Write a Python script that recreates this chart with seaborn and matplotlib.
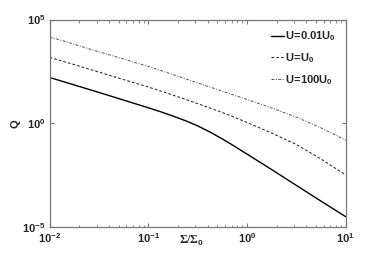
import matplotlib
matplotlib.use("Agg")
import matplotlib.pyplot as plt
import matplotlib.ticker as mticker
import numpy as np
import pandas as pd
import seaborn as sns

# sigma / sigma_0 sample points
sigma = [0.01, 0.0178, 0.0316, 0.0562, 0.1, 0.133, 0.178, 0.237, 0.316, 0.422, 0.562, 0.75,
         1.0, 1.78, 3.16, 5.62, 10.0]

# log10(Q)
logq_low = [2.21, 1.85, 1.49, 1.12, 0.75, 0.56, 0.35, 0.13, -0.12, -0.42, -0.75, -1.11,
            -1.48, -2.23, -2.99, -3.75, -4.50]
logq_mid = [3.18, 2.83, 2.47, 2.11, 1.75, 1.56, 1.36, 1.16, 0.95, 0.74, 0.52, 0.29,
            0.04, -0.47, -1.02, -1.72, -2.49]
logq_high = [4.17, 3.81, 3.45, 3.10, 2.74, 2.55, 2.35, 2.15, 1.95, 1.75, 1.55, 1.35,
             1.15, 0.74, 0.30, -0.22, -0.81]

labels = [r"$U\!=\!0.01U_0$", r"$U\!=\!U_0$", r"$U\!=\!100U_0$"]

sns.set_style("ticks")
plt.rcParams["font.family"] = ["Liberation Sans", "DejaVu Sans"]
plt.rcParams["font.weight"] = "bold"
plt.rcParams["mathtext.fontset"] = "custom"
plt.rcParams["mathtext.default"] = "bf"
plt.rcParams["mathtext.rm"] = "Liberation Serif"
plt.rcParams["mathtext.bf"] = "Liberation Sans:bold"
plt.rcParams["mathtext.it"] = "Liberation Sans:bold"

fig = plt.figure(figsize=(3.82, 2.61), dpi=100)
ax = fig.add_axes([0.1296, 0.130, 0.7754, 0.795])

series = [
    (logq_low, labels[0], "-", "black", 1.0),
    (logq_mid, labels[1], (0, (2.5, 1.8)), "#333333", 0.8),
    (logq_high, labels[2], (0, (3, 1.5, 1, 1.5)), "#555555", 0.7),
]
for logq, lab, ls, col, lw in series:
    df = pd.DataFrame({"sigma": sigma, "Q": np.power(10.0, logq)})
    sns.lineplot(data=df, x="sigma", y="Q", ax=ax, color=col, linestyle=ls,
                 linewidth=lw, label=lab)

ax.set_xscale("log")
ax.set_yscale("log")
ax.set_xlim(0.01, 10)
ax.set_ylim(1e-5, 1e5)

ax.xaxis.set_major_locator(mticker.LogLocator(base=10, numticks=10))
ax.xaxis.set_minor_locator(mticker.LogLocator(base=10, subs=np.arange(2, 10), numticks=20))
ax.yaxis.set_major_locator(mticker.FixedLocator([1e-5, 1e0, 1e5]))
ax.yaxis.set_minor_locator(mticker.NullLocator())
ax.xaxis.set_major_formatter(mticker.LogFormatterMathtext())
ax.yaxis.set_major_formatter(mticker.LogFormatterMathtext())

ax.tick_params(which="both", direction="in", top=True, right=True,
               labelsize=8, color="#777777", pad=3)
ax.tick_params(which="major", length=3)
ax.tick_params(which="minor", length=1.8)
for sp in ax.spines.values():
    sp.set_color("#777777")
    sp.set_linewidth(0.9)

ax.set_xlabel(r"$\mathrm{\Sigma/\Sigma}_\mathbf{0}$", fontsize=8.5, labelpad=-11)
ax.xaxis.set_label_coords(0.48, -0.035, transform=ax.transAxes)
ax.xaxis.label.set_va("top")
ax.set_ylabel("Q", fontsize=8, fontweight="bold", labelpad=1)

leg = ax.legend(loc="upper right", frameon=False, fontsize=8, handlelength=1.1,
                handletextpad=0.1, labelspacing=0.7, borderaxespad=0.5)

fig.savefig("out.png", dpi=100)
